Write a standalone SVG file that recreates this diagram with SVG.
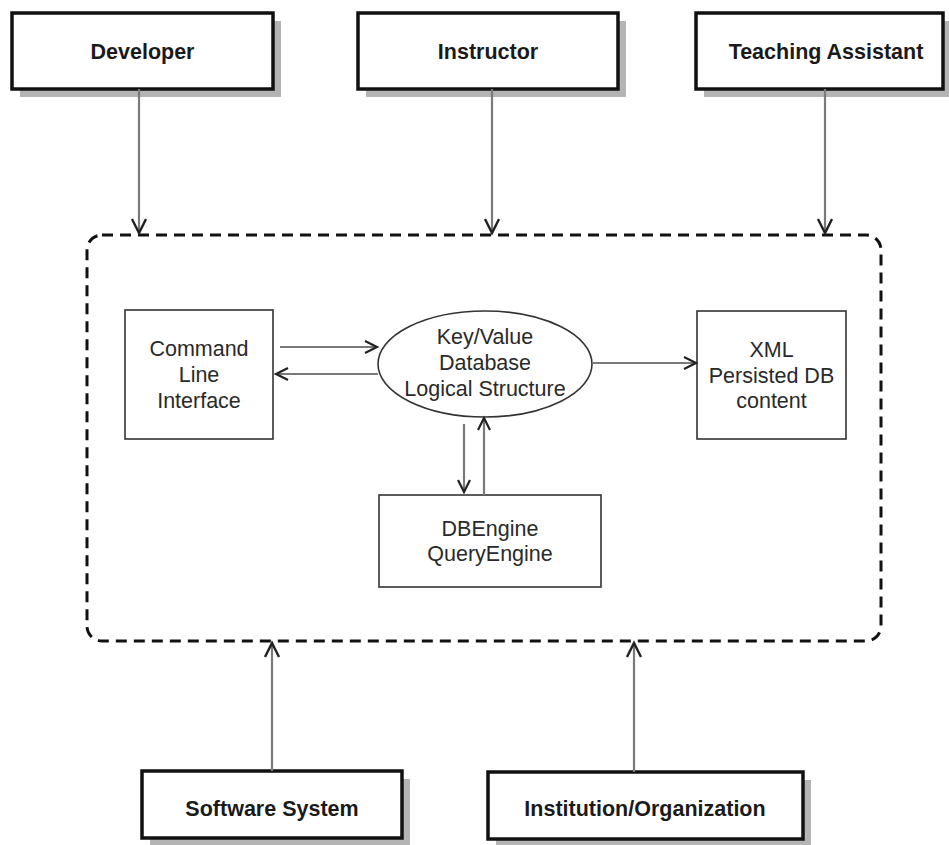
<svg xmlns="http://www.w3.org/2000/svg" width="949" height="845" viewBox="0 0 949 845">
  <style>
    .actor { fill: #ffffff; stroke: #111111; stroke-width: 3.5; }
    .shadow { fill: #b4b4b4; }
    .actor-label { font-family: "Liberation Sans", Arial, sans-serif; font-weight: bold; font-size: 21.5px; fill: #1a1a1a; text-anchor: middle; }
    .part { fill: #ffffff; stroke: #333333; stroke-width: 1.6; }
    .part-label { font-family: "Liberation Sans", Arial, sans-serif; font-size: 21.5px; fill: #2a2a2a; text-anchor: middle; }
    .boundary { fill: none; stroke: #111111; stroke-width: 3; stroke-dasharray: 11 7; }
    .link { fill: none; stroke: #7a7a7a; stroke-width: 2.2; }
    .link-big { marker-end: url(#head-big); }
    .link-small { marker-end: url(#head-small); }
  </style>
  <defs>
    <marker id="head-big" markerUnits="userSpaceOnUse" markerWidth="20" markerHeight="20" refX="15" refY="8" orient="auto">
      <path d="M1,1 L15,8 L1,15" fill="none" stroke="#222222" stroke-width="2.4"/>
    </marker>
    <marker id="head-small" markerUnits="userSpaceOnUse" markerWidth="18" markerHeight="18" refX="13" refY="7" orient="auto">
      <path d="M1,1 L13,7 L1,13" fill="none" stroke="#222222" stroke-width="2.2"/>
    </marker>
  </defs>

  <rect width="949" height="845" fill="#ffffff"/>

  <!-- system boundary -->
  <rect class="boundary" x="87" y="235" width="794" height="406" rx="15" ry="15"/>

  <!-- actors above the system -->
  <g id="developer">
    <rect class="shadow" x="20" y="21" width="261" height="76"/>
    <rect class="actor" x="12" y="13" width="261" height="76"/>
    <text class="actor-label" x="142.5" y="59">Developer</text>
  </g>
  <g id="instructor">
    <rect class="shadow" x="366" y="21" width="260" height="76"/>
    <rect class="actor" x="358" y="13" width="260" height="76"/>
    <text class="actor-label" x="488" y="59">Instructor</text>
  </g>
  <g id="teaching-assistant">
    <rect class="shadow" x="704" y="21" width="247" height="76"/>
    <rect class="actor" x="696" y="13" width="247" height="76"/>
    <text class="actor-label" x="826" y="59">Teaching Assistant</text>
  </g>

  <!-- actors below the system -->
  <g id="software-system">
    <rect class="shadow" x="150" y="779" width="260" height="70"/>
    <rect class="actor" x="142" y="771" width="260" height="67"/>
    <text class="actor-label" x="272" y="816">Software System</text>
  </g>
  <g id="institution">
    <rect class="shadow" x="496" y="780" width="315" height="70"/>
    <rect class="actor" x="488" y="772" width="315" height="67"/>
    <text class="actor-label" x="645" y="816">Institution/Organization</text>
  </g>

  <!-- internal components -->
  <g id="command-line">
    <rect class="part" x="125" y="310" width="148" height="129"/>
    <text class="part-label" x="199" y="356">Command</text>
    <text class="part-label" x="199" y="382">Line</text>
    <text class="part-label" x="199" y="408">Interface</text>
  </g>
  <g id="key-value-store">
    <ellipse class="part" cx="485" cy="364" rx="107" ry="53"/>
    <text class="part-label" x="485" y="344">Key/Value</text>
    <text class="part-label" x="485" y="370">Database</text>
    <text class="part-label" x="485" y="396">Logical Structure</text>
  </g>
  <g id="xml-content">
    <rect class="part" x="697" y="311" width="149" height="128"/>
    <text class="part-label" x="771.5" y="357">XML</text>
    <text class="part-label" x="771.5" y="383">Persisted DB</text>
    <text class="part-label" x="771.5" y="408">content</text>
  </g>
  <g id="db-engine">
    <rect class="part" x="379" y="495" width="222" height="92"/>
    <text class="part-label" x="490" y="536">DBEngine</text>
    <text class="part-label" x="490" y="561">QueryEngine</text>
  </g>

  <!-- connectors -->
  <g id="connectors">
    <line class="link link-big" x1="139" y1="89" x2="139" y2="233"/>
    <line class="link link-big" x1="492" y1="89" x2="492" y2="233"/>
    <line class="link link-big" x1="825" y1="89" x2="825" y2="233"/>
    <line class="link link-big" x1="272" y1="771" x2="272" y2="643"/>
    <line class="link link-big" x1="634" y1="772" x2="634" y2="643"/>

    <line class="link link-small" x1="280" y1="347" x2="377" y2="347"/>
    <line class="link link-small" x1="378" y1="374" x2="276" y2="374"/>
    <line class="link link-small" x1="592" y1="363" x2="696" y2="363"/>
    <line class="link link-small" x1="464" y1="424" x2="464" y2="492"/>
    <line class="link link-small" x1="484" y1="495" x2="484" y2="418"/>
  </g>
</svg>
